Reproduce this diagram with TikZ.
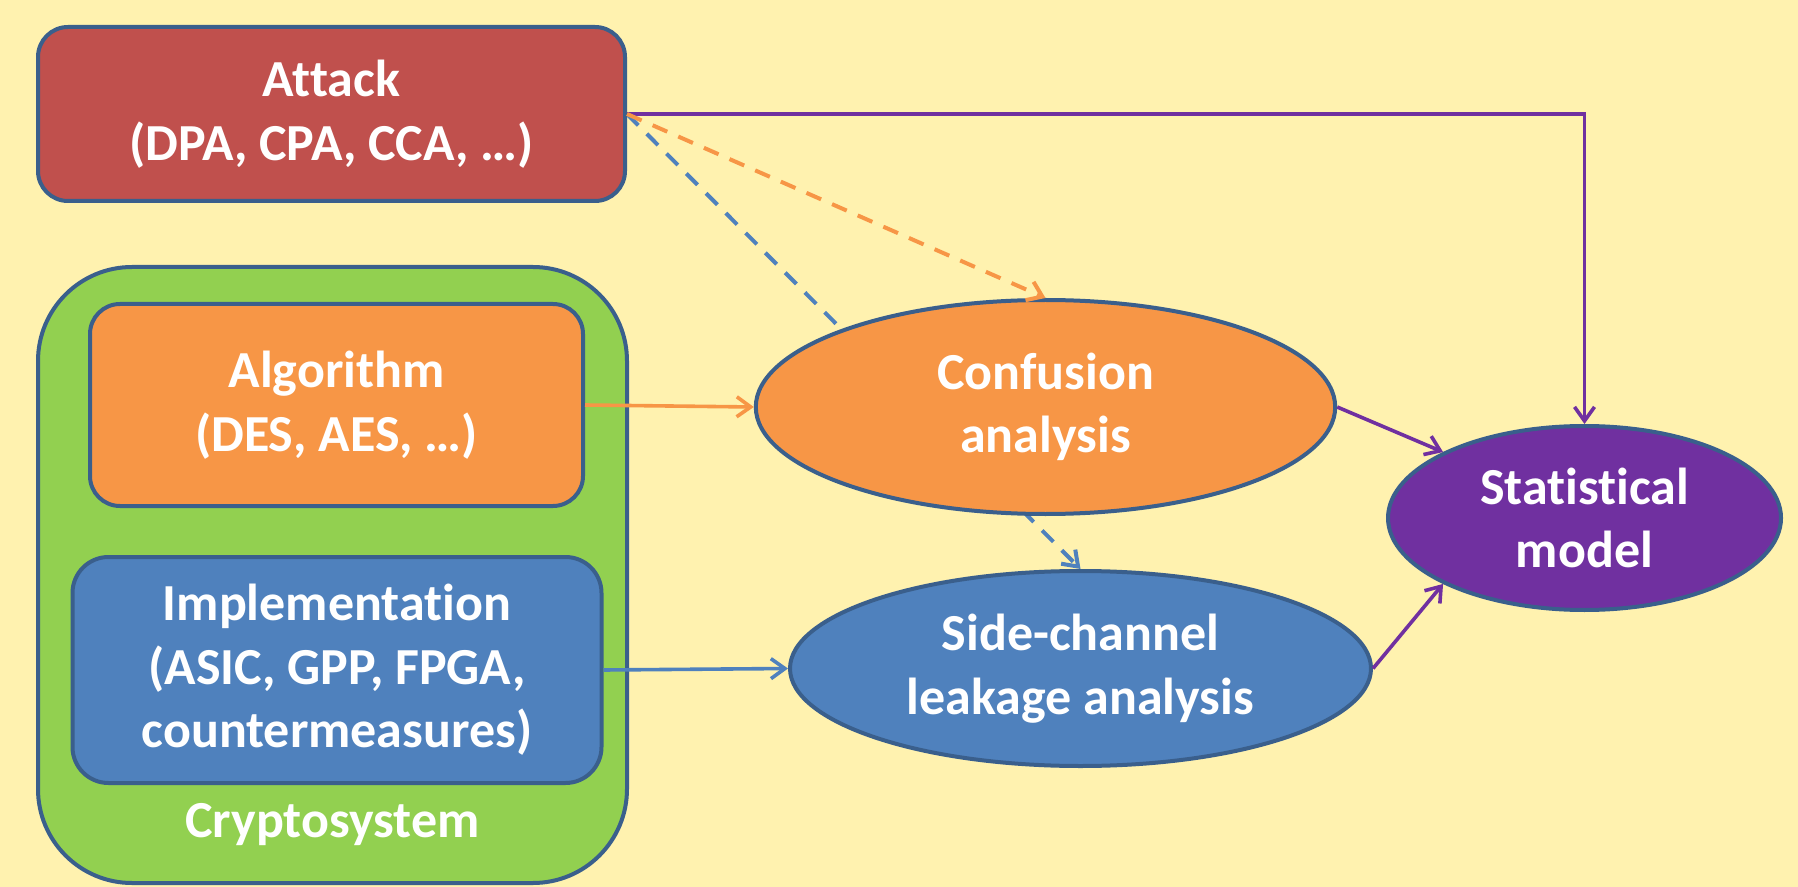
\documentclass[tikz,border=0pt]{standalone}
\usepackage{fontspec}
\setmainfont{Carlito}[Ligatures=NoCommon]
\usetikzlibrary{arrows.meta,shapes.geometric}
\definecolor{bgyellow}{HTML}{FFF2AF}
\definecolor{bordblue}{HTML}{3A5F8C}
\definecolor{attred}{HTML}{C0504D}
\definecolor{cgreen}{HTML}{92D050}
\definecolor{corange}{HTML}{F79646}
\definecolor{cblue}{HTML}{4F81BD}
\definecolor{cpurple}{HTML}{7030A0}
\pgfdeclarelayer{bglayer}
\pgfsetlayers{bglayer,main}
\begin{document}
\begin{tikzpicture}[x=0.5pt,y=-0.5pt,
  txt/.style={text=white, font=\fontsize{26}{31.7}\selectfont\bfseries, align=center},
  rbox/.style={rectangle, draw=bordblue, line width=2pt, rounded corners=#1, inner sep=0pt, txt},
  ell/.style={ellipse, draw=bordblue, line width=2pt, inner sep=0pt, txt},
  conn/.style={line width=1.8pt, -{Straight Barb[length=7pt,width=10pt]}},
  dashconn/.style={conn, line width=2pt, dash pattern=on 8pt off 6pt},
]
\useasboundingbox (0,0) rectangle (1798,887);

% nodes
\node[rbox=15pt, fill=attred, minimum width=293.5pt, minimum height=87pt] (attack) at (331.5,114)
  {Attack\\(DPA, CPA, CCA, …)};
\node[rbox=47pt, fill=cgreen, minimum width=294.5pt, minimum height=308pt] (crypto) at (332.5,575) {};
\node[txt, anchor=base] (cryptolabel) at (332.5,837) {Cryptosystem};
\node[rbox=15pt, fill=corange, minimum width=246.5pt, minimum height=101pt] (algo) at (336.5,405)
  {Algorithm\\(DES, AES, …)};
\node[rbox=18pt, fill=cblue, minimum width=264.5pt, minimum height=113pt] (impl) at (337,670)
  {Implementation\\(ASIC, GPP, FPGA,\\countermeasures)};
\node[ell, fill=corange, minimum width=289.7pt, minimum height=107pt] (conf) at (1045.5,407)
  {Confusion\\analysis};
\node[ell, fill=cblue, minimum width=290.5pt, minimum height=97.5pt] (side) at (1080.5,668.5)
  {Side-channel\\leakage analysis};
\node[ell, fill=cpurple, minimum width=196.5pt, minimum height=92pt] (stat) at (1584.5,518)
  {Statistical\\model};

\begin{pgfonlayer}{bglayer}
  \fill[bgyellow] (0,0) rectangle (1798,887);
  \draw[dashconn, cblue] (attack.east) -- (side.north);
\end{pgfonlayer}

% connectors
\draw[conn, cpurple] (attack.east) -| (stat.north);
\draw[dashconn, corange] (attack.east) -- (conf.north);
\draw[conn, corange] (algo.east) -- (conf.west);
\draw[conn, cblue] (impl.east) -- (side.west);
\draw[conn, cpurple] (conf.east) -- (stat.155);
\draw[conn, cpurple] (side.east) -- (stat.205);
\end{tikzpicture}
\end{document}
